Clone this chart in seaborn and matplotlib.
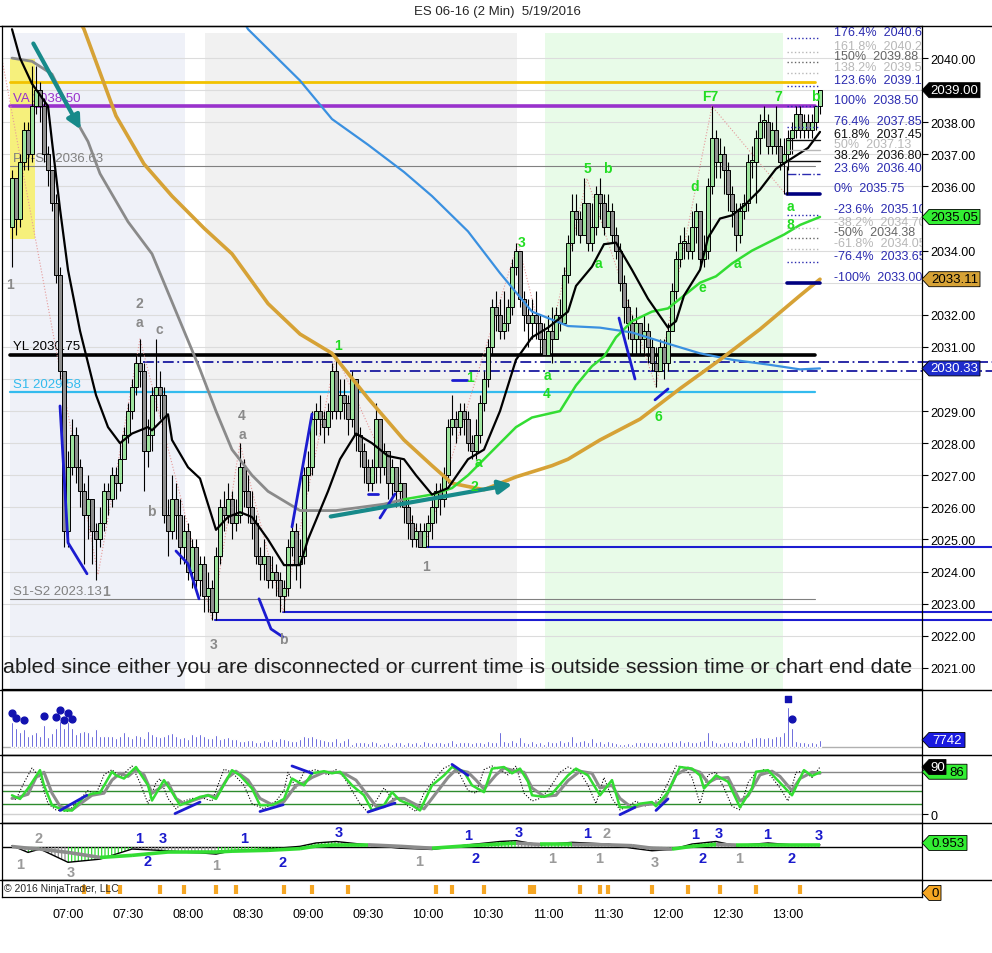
import numpy as np
import pandas as pd
import seaborn as sns
import matplotlib.pyplot as plt
from matplotlib.patches import Rectangle, Polygon
from matplotlib.lines import Line2D

sns.set_style("white")
plt.rcParams['font.family'] = ['Liberation Sans', 'DejaVu Sans']
plt.rcParams['hatch.linewidth'] = 0.9

# ---- price bars (2 min, 06:32 .. 13:16) ----
first_open = 2034.75
closes = [
    2036.25, 2035.0, 2036.75, 2037.75, 2037.0, 2038.5, 2039.0, 2038.5, 2037.0, 2036.5,
    2035.5, 2033.25, 2030.25, 2025.25, 2027.25, 2028.25, 2027.25, 2026.5, 2025.75, 2026.25,
    2025.25, 2025.0, 2025.5, 2026.5, 2026.25, 2027.0, 2026.75, 2027.5, 2028.25, 2029.0,
    2029.75, 2030.5, 2030.25, 2027.75, 2028.25, 2029.5, 2029.75, 2029.5, 2025.75, 2025.25,
    2026.25, 2025.75, 2024.75, 2025.25, 2024.0, 2024.75, 2023.75, 2024.25, 2023.25, 2023.5,
    2022.75, 2024.5, 2026.0, 2025.75, 2026.25, 2025.5, 2025.75, 2027.25, 2026.5, 2026.0,
    2025.5, 2024.5, 2024.25, 2024.5, 2023.75, 2024.0, 2023.75, 2023.25, 2023.5, 2024.75,
    2025.25, 2024.25, 2024.5, 2027.0, 2027.25, 2028.75, 2029.0, 2028.75, 2028.5, 2029.0,
    2030.25, 2029.0, 2029.5, 2029.25, 2028.75, 2030.0, 2028.25, 2027.75, 2027.25, 2026.75,
    2027.25, 2028.75, 2027.25, 2027.75, 2026.75, 2027.25, 2026.5, 2026.75, 2026.0, 2025.5,
    2025.0, 2025.25, 2024.75, 2025.25, 2025.5, 2026.0, 2026.5, 2026.25, 2027.0, 2028.5,
    2028.75, 2028.5, 2029.0, 2028.75, 2028.0, 2027.75, 2028.25, 2029.25, 2030.0, 2031.0,
    2032.25, 2032.0, 2031.5, 2031.75, 2032.25, 2033.5, 2034.0, 2032.5, 2032.0, 2031.75,
    2032.0, 2031.75, 2031.25, 2030.75, 2031.5, 2031.25, 2032.0, 2031.75, 2033.25, 2034.25,
    2035.25, 2035.0, 2034.5, 2035.5, 2034.25, 2034.75, 2035.75, 2035.5, 2034.75, 2035.25,
    2034.5, 2034.0, 2033.0, 2032.25, 2031.75, 2031.25, 2031.75, 2031.25, 2031.5, 2031.0,
    2030.5, 2030.25, 2031.0, 2030.5, 2031.5, 2032.75, 2033.75, 2034.25, 2034.25, 2034.0,
    2034.75, 2035.25, 2033.75, 2034.0, 2036.0, 2037.5, 2036.75, 2037.0, 2036.5, 2035.75,
    2035.25, 2034.5, 2035.25, 2035.5, 2036.75, 2036.75, 2037.5, 2038.0, 2038.0, 2037.25,
    2037.75, 2037.25, 2036.75, 2037.0, 2037.5, 2037.75, 2038.25, 2037.75, 2038.0, 2037.75,
    2038.0, 2038.5, 2039.0,
]
highs = [
    2036.5, 2036.25, 2037.0, 2038.0, 2038.0, 2039.75, 2039.75, 2039.25, 2038.75, 2037.25,
    2036.5, 2035.75, 2033.5, 2030.25, 2027.75, 2028.75, 2028.5, 2027.5, 2026.75, 2027.0,
    2026.25, 2025.5, 2026.0, 2026.75, 2026.75, 2027.25, 2027.25, 2028.0, 2028.5, 2029.25,
    2030.0, 2030.75, 2031.25, 2030.5, 2028.75, 2029.75, 2031.25, 2030.25, 2029.75, 2026.25,
    2027.0, 2026.75, 2026.25, 2025.75, 2025.5, 2025.0, 2025.0, 2024.5, 2024.5, 2024.0,
    2023.75, 2024.75, 2026.25, 2026.5, 2026.75, 2026.5, 2026.25, 2028.0, 2027.5, 2027.0,
    2026.5, 2025.75, 2024.75, 2025.0, 2024.5, 2024.5, 2024.25, 2024.0, 2023.75, 2025.0,
    2025.5, 2025.5, 2025.0, 2027.25, 2027.75, 2029.0, 2029.25, 2029.5, 2029.0, 2029.25,
    2030.5, 2030.75, 2030.0, 2030.0, 2029.5, 2030.25, 2030.0, 2028.5, 2028.0, 2027.5,
    2027.5, 2029.25, 2028.75, 2028.0, 2027.75, 2027.5, 2027.25, 2027.5, 2026.75, 2026.25,
    2025.75, 2025.5, 2025.5, 2025.5, 2025.75, 2026.25, 2026.75, 2026.75, 2027.25, 2028.75,
    2029.5, 2029.0, 2029.25, 2029.25, 2029.0, 2028.25, 2028.75, 2029.5, 2030.25, 2031.25,
    2032.5, 2032.75, 2032.5, 2032.75, 2032.5, 2033.75, 2034.25, 2034.0, 2032.75, 2032.5,
    2032.5, 2032.75, 2032.0, 2031.75, 2032.0, 2032.25, 2032.25, 2032.5, 2033.5, 2034.5,
    2035.75, 2035.75, 2035.25, 2036.25, 2035.5, 2035.5, 2036.0, 2036.25, 2035.75, 2035.75,
    2035.5, 2034.75, 2034.25, 2033.25, 2032.5, 2032.0, 2032.25, 2031.75, 2032.0, 2031.75,
    2031.25, 2031.0, 2031.25, 2031.25, 2031.75, 2033.0, 2034.0, 2034.5, 2034.75, 2034.5,
    2035.25, 2035.5, 2035.25, 2034.5, 2036.25, 2038.5, 2037.75, 2037.5, 2037.25, 2036.75,
    2036.0, 2035.5, 2035.5, 2035.75, 2037.0, 2037.25, 2037.75, 2038.25, 2038.5, 2038.25,
    2038.0, 2038.5, 2037.5, 2037.5, 2037.75, 2038.0, 2038.5, 2038.5, 2038.25, 2038.25,
    2038.25, 2038.5, 2039.0,
]
lows = [
    2033.5, 2034.5, 2034.75, 2036.5, 2036.5, 2036.75, 2038.25, 2038.0, 2036.75, 2036.0,
    2035.25, 2033.0, 2030.0, 2024.75, 2024.75, 2027.0, 2026.75, 2026.0, 2024.25, 2025.0,
    2024.25, 2023.75, 2024.75, 2025.25, 2025.75, 2026.0, 2026.25, 2026.5, 2027.5, 2028.0,
    2028.75, 2029.5, 2029.75, 2026.5, 2027.25, 2027.75, 2029.0, 2028.75, 2025.5, 2024.5,
    2025.0, 2025.0, 2024.25, 2024.25, 2023.75, 2023.5, 2023.5, 2023.25, 2022.75, 2022.75,
    2022.5, 2022.5, 2024.25, 2025.25, 2025.5, 2025.0, 2025.25, 2025.5, 2026.0, 2025.5,
    2025.0, 2024.25, 2023.75, 2023.75, 2023.5, 2023.5, 2023.25, 2022.75, 2022.75, 2023.25,
    2024.5, 2023.75, 2023.5, 2024.25, 2026.5, 2027.0, 2028.25, 2028.25, 2028.0, 2028.25,
    2028.75, 2028.75, 2028.75, 2028.75, 2028.25, 2028.5, 2027.75, 2027.25, 2026.75, 2026.5,
    2026.5, 2026.75, 2026.75, 2027.0, 2026.25, 2026.25, 2026.0, 2026.0, 2025.5, 2025.0,
    2024.75, 2024.75, 2024.75, 2024.75, 2024.75, 2025.0, 2025.5, 2025.75, 2026.0, 2026.75,
    2028.25, 2028.0, 2028.25, 2028.25, 2027.75, 2027.5, 2027.5, 2028.0, 2029.0, 2029.75,
    2030.75, 2031.5, 2031.25, 2031.25, 2031.5, 2032.0, 2033.25, 2032.25, 2031.5, 2031.0,
    2031.25, 2031.25, 2030.75, 2030.75, 2030.75, 2030.5, 2031.25, 2031.5, 2031.75, 2033.0,
    2034.0, 2034.5, 2034.25, 2034.5, 2034.0, 2034.0, 2034.5, 2035.0, 2034.5, 2034.75,
    2034.25, 2033.75, 2032.75, 2031.75, 2031.25, 2030.75, 2030.75, 2030.75, 2030.75, 2030.5,
    2030.25, 2029.75, 2030.25, 2030.0, 2030.25, 2031.5, 2032.5, 2033.5, 2033.75, 2033.75,
    2033.75, 2034.25, 2033.5, 2033.5, 2033.75, 2035.75, 2036.25, 2036.25, 2035.75, 2035.25,
    2034.75, 2034.0, 2034.25, 2035.0, 2035.25, 2036.25, 2035.5, 2037.0, 2037.5, 2037.0,
    2037.0, 2037.0, 2036.5, 2035.75, 2036.5, 2037.0, 2037.5, 2037.5, 2037.5, 2037.5,
    2037.5, 2037.75, 2038.25,
]
volumes = [
    27100, 20500, 16900, 19800, 12500, 14300, 16100, 12500, 24200, 10600, 15400, 20500, 28900, 20500, 27100, 20500,
    13900, 16900, 18000, 16100, 12500, 19800, 12500, 11700, 12500, 11700, 9500, 12500, 16100, 12500, 9500,
    13200, 11700, 9500, 18000, 14300, 12500, 10600, 12500, 14300, 15400, 12500, 9500, 10600, 8800, 14300,
    12500, 14300, 11700, 9500, 9500, 13200, 8800, 9500, 10600, 8800, 8800, 7000, 7000, 8100, 8100,
    5100, 5900, 8100, 7000, 8800, 7000, 9500, 8800, 8100, 7000, 7000, 8800, 12500, 10600, 11700,
    9500, 8800, 8100, 7000, 7000, 9500, 5900, 8100, 9500, 3300, 5900, 5100, 5900, 4400, 7000,
    5100, 3300, 4400, 5100, 3300, 5900, 5100, 3300, 5100, 4400, 5100, 3300, 7000, 5100, 4400,
    5900, 5100, 4400, 5900, 8100, 4400, 5100, 5900, 5100, 4400, 5100, 5900, 4400, 7000, 5900, 5100,
    16100, 7000, 5100, 8100, 5900, 10600, 5900, 4400, 7000, 4400, 5900, 3300, 7000, 5100, 5900, 8100,
    5100, 7000, 11700, 5100, 7000, 8100, 5900, 9500, 5900, 7000, 4400, 7000, 5900, 4400, 3300, 3300,
    4400, 3300, 5900, 5100, 5900, 5100, 5900, 5900, 4400, 5100, 5900, 7000, 5900, 8100, 5900, 7000, 5100, 5900, 7000, 8100,
    17000, 8100, 5900, 4400, 5900, 5100, 7000, 5900, 5100, 8100, 5900, 9500, 10600, 10600, 9500, 10600, 9500, 11700, 12500, 17000,
    43600, 20500, 7000, 5100, 5100, 4400, 5100, 4400, 7742,
]
vol_dot_bars = [0, 1, 3, 8, 11, 12, 13, 14, 15, 195]
vol_dot_vals = [37400, 31900, 29700, 34100, 33000, 40700, 29700, 37400, 30800, 30800]

# ---- moving averages (bar index, price) ----
black_bar = [0, 2, 5, 9, 10, 12, 14, 17, 21, 24, 27, 30, 34, 35, 39, 40, 44, 47, 51, 54,
             57, 60, 64, 68, 72, 74, 79, 82, 86, 90, 94, 98, 101, 105, 109, 114, 118, 122, 126, 130,
             134, 139, 141, 145, 148, 151, 155, 159, 164, 166, 168, 172, 174, 177, 180, 183, 187, 191, 194, 199, 202]
black_val = [2040.9, 2040.0, 2039.2, 2038.5, 2037.4, 2035.3, 2033.4, 2031.5, 2029.5, 2028.5,
             2028.0, 2028.3, 2028.5, 2028.4, 2028.9, 2028.1, 2027.25, 2026.9, 2025.3, 2025.7,
             2025.85, 2025.7, 2025.0, 2024.2, 2024.2, 2025.0, 2026.5, 2027.5, 2028.3, 2028.0,
             2027.6, 2027.5, 2027.0, 2026.4, 2026.6, 2027.5, 2027.8, 2029.0, 2030.6, 2031.3,
             2031.6, 2032.1, 2032.9, 2033.5, 2034.2, 2034.25, 2033.4, 2032.5, 2031.6, 2031.8,
             2032.6, 2033.4, 2034.4, 2035.0, 2035.1, 2035.4, 2035.9, 2036.55, 2036.8, 2037.2, 2037.7]
slow_bar = [0, 5, 10, 14, 19, 22, 29, 35, 41, 47, 51, 55, 60, 64, 68, 72, 76, 81, 87, 93,
            98, 105, 110, 114, 118, 122, 126, 130, 137, 141, 145, 148, 151, 155, 160, 164, 168, 172, 176, 180,
            185, 189, 193, 197, 202]
slow_val = [2040.0, 2039.9, 2039.5, 2038.5, 2037.4, 2036.4, 2034.9, 2033.9, 2032.1, 2030.3,
            2029.0, 2027.8, 2027.0, 2026.5, 2026.2, 2025.9, 2025.9, 2025.9, 2026.0, 2026.1,
            2026.25, 2026.4, 2026.6, 2027.0, 2027.5, 2028.0, 2028.5, 2028.8, 2029.0, 2029.8,
            2030.4, 2030.7, 2031.3, 2031.8, 2032.1, 2032.2, 2032.6, 2033.0, 2033.2, 2033.6,
            2034.0, 2034.25, 2034.5, 2034.8, 2035.05]
gold_bar = [12, 15, 18, 26, 33, 40, 48, 55, 64, 72, 80, 89, 98, 105, 110, 118, 126, 135, 139, 147,
            157, 167, 177, 187, 197, 202]
gold_val = [2042.5, 2041.6, 2040.9, 2038.2, 2036.7, 2035.7, 2034.7, 2033.9, 2032.35, 2031.4,
            2030.8, 2029.4, 2028.1, 2027.3, 2026.75, 2026.55, 2026.95, 2027.3, 2027.5, 2028.1,
            2028.75, 2029.7, 2030.6, 2031.55, 2032.6, 2033.11]
blue_bar = [55, 59, 72, 80, 89, 98, 105, 114, 122, 130, 139, 147, 155, 164, 172, 180, 189, 197, 202]
blue_val = [2041.8, 2040.9, 2039.3, 2038.1, 2037.3, 2036.45, 2035.7, 2034.6, 2033.3, 2032.1,
            2031.65, 2031.6, 2031.45, 2031.1, 2030.8, 2030.6, 2030.45, 2030.3, 2030.33]

# ---- stochastics (bar, value) ----
stg_bar = [0, 2, 4, 7, 8, 10, 13, 15, 18, 20, 22, 25, 26, 28, 31, 34, 35, 38, 40, 42,
           44, 47, 49, 51, 55, 57, 60, 62, 65, 68, 70, 73, 75, 78, 80, 82, 85, 88, 90, 93,
           95, 97, 100, 102, 105, 108, 110, 113, 115, 118, 120, 123, 125, 127, 129, 130, 133, 135, 139, 141,
           144, 147, 150, 152, 155, 157, 160, 161, 164, 167, 170, 172, 173, 176, 179, 182, 185, 186, 189, 191,
           195, 198, 200, 202]
stg_val = [36, 29, 49, 84, 55, 17, 7, 7, 33, 39, 41, 81, 74, 68, 90, 55, 26, 65, 42, 17,
           23, 33, 36, 29, 84, 74, 49, 17, 17, 29, 68, 55, 78, 82, 78, 81, 55, 36, 7, 17,
           42, 26, 17, 7, 55, 74, 90, 81, 55, 42, 87, 90, 78, 87, 62, 36, 33, 39, 74, 87,
           74, 36, 65, 13, 13, 20, 23, 15, 42, 90, 87, 74, 49, 74, 62, 13, 49, 81, 84, 68,
           36, 84, 73, 80]
sty_bar = [0, 2, 4, 6, 8, 10, 12, 15, 18, 20, 23, 25, 27, 29, 31, 33, 35, 37, 39, 41,
           43, 46, 49, 51, 54, 56, 59, 62, 65, 68, 71, 73, 75, 78, 81, 83, 86, 88, 91, 93,
           96, 98, 101, 103, 106, 109, 111, 114, 116, 118, 121, 123, 126, 128, 130, 133, 136, 139, 142, 145,
           147, 150, 152, 155, 158, 161, 163, 166, 169, 172, 174, 176, 179, 182, 184, 187, 190, 192, 195, 197,
           200, 202]
sty_val = [30, 33, 38, 70, 80, 40, 15, 8, 25, 36, 40, 65, 78, 72, 85, 75, 40, 50, 60, 30,
           20, 28, 36, 33, 70, 82, 65, 30, 18, 24, 55, 60, 70, 80, 80, 78, 65, 45, 15, 14,
           30, 30, 18, 10, 40, 70, 85, 80, 65, 48, 75, 88, 82, 80, 50, 34, 36, 64, 82, 78,
           50, 55, 30, 12, 18, 20, 25, 75, 88, 80, 60, 68, 70, 25, 35, 75, 82, 72, 45, 68,
           80, 78]
stk_bar = [0, 1, 3, 5, 7, 9, 11, 14, 16, 19, 21, 23, 25, 27, 30, 32, 34, 36, 37, 39,
           41, 43, 45, 48, 50, 53, 55, 58, 60, 63, 66, 68, 69, 71, 73, 76, 79, 81, 83, 85,
           87, 89, 91, 93, 95, 97, 99, 101, 103, 106, 108, 110, 112, 114, 116, 118, 120, 122, 124, 126,
           128, 130, 132, 134, 137, 139, 142, 144, 146, 148, 150, 152, 154, 156, 158, 160, 162, 164, 166, 168,
           170, 172, 174, 176, 178, 180, 182, 184, 186, 188, 190, 192, 194, 196, 198, 200, 202]
stk_val = [30, 28, 60, 88, 70, 20, 8, 5, 20, 45, 38, 75, 85, 70, 92, 60, 20, 60, 68, 30,
           10, 25, 30, 30, 25, 86, 80, 55, 20, 10, 25, 45, 80, 50, 80, 85, 75, 85, 70, 45,
           20, 3, 25, 50, 30, 30, 15, 5, 40, 70, 88, 95, 75, 45, 40, 85, 92, 85, 75, 92,
           40, 25, 30, 45, 80, 90, 80, 55, 20, 70, 30, 8, 15, 25, 15, 20, 30, 60, 92, 90,
           70, 20, 75, 80, 50, 15, 8, 60, 80, 85, 70, 50, 25, 80, 82, 70, 90]

# ---- macd (bar, value) ----
macd_bar = [0, 4, 7, 14, 22, 30, 39, 44, 47, 51, 55, 64, 72, 76, 81, 89, 97, 105, 114, 122,
            126, 132, 140, 149, 155, 160, 165, 170, 176, 181, 189, 195, 202]
macd_val = [0.3, -1.3, -0.5, -3.65, -2.9, -0.5, -0.9, -1.3, -1.4, -1.7, -0.9, -0.5, 0.15, 0.95, 1.3,
            0.5, -0.3, -0.6, 0.5, 1.3, 1.5, 0.5, 1.1, 0.7, -0.3, -0.9, -0.6, 0.7, 1.3, 0.3, 0.95, 0.5, 0.5]
signal_val = [0.1, -0.3, -0.5, -1.3, -2.5, -2.0, -1.2, -1.2, -1.2, -1.2, -1.0, -0.8, -0.4, 0.2, 0.5,
              0.5, 0.15, -0.3, 0.3, 0.7, 0.9, 0.6, 0.6, 0.5, 0.3, -0.3, -0.5, 0.15, 0.6, 0.45, 0.5, 0.5, 0.5]

marker_bars = [18, 24, 27, 37, 43, 51, 56, 68, 75, 84, 106, 110, 118, 129.6, 130.4, 142, 147, 149,
               160, 169, 177, 186, 197]

tick_bars = [14, 29, 44, 59, 74, 89, 104, 119, 134, 149, 164, 179, 194]
tick_labels = ['07:00', '07:30', '08:00', '08:30', '09:00', '09:30', '10:00', '10:30',
               '11:00', '11:30', '12:00', '12:30', '13:00']

# horizontal levels: (price, label, colour, width)
pivots = [
    (2039.25, None, '#f2c200', 2.0),
    (2038.50, 'VA 2038.50', '#9932cc', 2.6),
    (2036.63, 'PP-S1 2036.63', '#808080', 0.8),
    (2030.75, 'YL 2030.75', '#000000', 2.6),
    (2029.58, 'S1 2029.58', '#33bbee', 1.6),
    (2023.13, 'S1-S2 2023.13', '#808080', 0.8),
]
fibs = [
    ('176.4%  2040.63', 2040.63, '#2b2bb0', ':'),
    ('161.8%  2040.20', 2040.20, '#b8b8b8', ':'),
    ('150%  2039.88', 2039.88, '#666666', ':'),
    ('138.2%  2039.55', 2039.55, '#b8b8b8', ':'),
    ('123.6%  2039.13', 2039.13, '#2b2bb0', ':'),
    ('100%  2038.50', 2038.50, '#2b2bb0', ':'),
    ('76.4%  2037.85', 2037.85, '#2b2bb0', ':'),
    ('61.8%  2037.45', 2037.45, '#111111', '-'),
    ('50%  2037.13', 2037.13, '#b8b8b8', '-'),
    ('38.2%  2036.80', 2036.80, '#111111', '-'),
    ('23.6%  2036.40', 2036.40, '#2b2bb0', '-.'),
    ('0%  2035.75', 2035.75, '#2b2bb0', '-'),
    ('-23.6%  2035.10', 2035.10, '#2b2bb0', ':'),
    ('-38.2%  2034.70', 2034.70, '#b8b8b8', ':'),
    ('-50%  2034.38', 2034.38, '#666666', ':'),
    ('-61.8%  2034.05', 2034.05, '#b8b8b8', ':'),
    ('-76.4%  2033.65', 2033.65, '#2b2bb0', ':'),
    ('-100%  2033.00', 2033.00, '#2b2bb0', '-'),
]
wave_labels = [
    ('1', -0.5, 2032.96, 'g'), ('2', 31.75, 2032.37, 'g'), ('a', 31.75, 2031.78, 'g'),
    ('c', 36.75, 2031.56, 'g'), ('b', 34.75, 2025.89, 'g'), ('1', 23.5, 2023.4, 'g'),
    ('3', 50.5, 2021.74, 'g'), ('4', 57.5, 2028.88, 'g'), ('a', 57.5, 2028.29, 'g'),
    ('b', 67.75, 2021.9, 'g'), ('1', 103.5, 2024.17, 'g'),
    ('1', 81.5, 2031.06, 'G'), ('1', 114.5, 2030.06, 'G'), ('a', 116.5, 2027.41, 'G'),
    ('2', 115.5, 2026.67, 'G'), ('3', 127.5, 2034.27, 'G'), ('a', 133.75, 2030.12, 'G'),
    ('4', 133.75, 2029.56, 'G'), ('5', 143.75, 2036.57, 'G'), ('b', 148.75, 2036.57, 'G'),
    ('a', 146.5, 2033.61, 'G'), ('6', 161.5, 2028.85, 'G'), ('d', 170.75, 2036.01, 'G'),
    ('e', 172.5, 2032.87, 'G'), ('F7', 174.5, 2038.82, 'G'), ('7', 191.5, 2038.82, 'G'),
    ('b', 200.75, 2038.82, 'G'), ('a', 181.25, 2033.61, 'G'), ('a', 194.5, 2035.39, 'G'),
    ('8', 194.5, 2034.83, 'G'),
]
zigzag_bar = [-3, 21.5, 32, 50, 57, 67.75, 81, 103, 126.5, 133.5, 143.75, 161, 175, 193.5]
zigzag_val = [2040.3, 2023.9, 2031.25, 2022.5, 2028.0, 2022.75, 2030.75, 2024.75, 2034.25,
              2030.75, 2036.25, 2029.75, 2038.5, 2035.75]
trend_marks = [
    ([12, 14, 18.75], [2029.16, 2024.9, 2023.93]),
    ([41, 44, 46.75], [2024.64, 2024.24, 2023.15]),
    ([61.75, 64.75, 67.75], [2023.15, 2022.21, 2021.96]),
    ([70, 75], [2025.39, 2028.91]),
    ([89, 91.5], [2026.42, 2026.42]),
    ([92, 95.75], [2025.67, 2026.42]),
    ([110, 113.75], [2029.97, 2029.97]),
    ([151.75, 155.75], [2031.9, 2030.0]),
    ([160.75, 164], [2029.35, 2029.69]),
]
stoch_marks = [
    ([12, 18.7], [7, 36]), ([40.75, 47], [1, 23]), ([62, 67.8], [5, 18]),
    ([70, 75], [92, 78]), ([89, 95.75], [4, 21]), ([110, 114], [95, 74]),
    ([152, 155.75], [-1, 13]), ([161, 164], [7, 29]),
]
macd_labels = [
    ('1', 2, -4.05, 'g'), ('2', 6.75, 2.1, 'g'), ('3', 14.75, -6.0, 'g'),
    ('1', 31.75, 2.1, 'b'), ('3', 37.75, 2.1, 'b'), ('2', 34, -3.3, 'b'),
    ('1', 51, -4.3, 'g'), ('1', 58, 2.1, 'b'), ('2', 67.75, -3.6, 'b'),
    ('3', 81.75, 3.6, 'b'), ('1', 101.75, -3.3, 'g'), ('1', 114, 2.9, 'b'),
    ('2', 116, -2.6, 'b'), ('3', 126.75, 3.6, 'b'), ('1', 135, -2.6, 'g'),
    ('1', 143.75, 3.3, 'b'), ('2', 148.75, 3.3, 'g'), ('1', 146.75, -2.6, 'g'),
    ('3', 160.75, -3.6, 'g'), ('1', 170.75, 3.1, 'b'), ('3', 176.75, 3.3, 'b'),
    ('2', 172.75, -2.6, 'b'), ('1', 181.75, -2.6, 'g'), ('1', 188.75, 3.1, 'b'),
    ('2', 195, -2.6, 'b'), ('3', 201.75, 2.9, 'b'),
]

# ---- layout ----
W, H = 992, 954
fig = plt.figure(figsize=(W / 100, H / 100), dpi=100)
XLIM = (-2.5, 227.5)


def rect(top, bottom):
    return [2 / W, 1 - bottom / H, 920 / W, (bottom - top) / H]


ax = fig.add_axes(rect(27, 690))
axv = fig.add_axes(rect(691, 756))
axs = fig.add_axes(rect(756, 824))
axm = fig.add_axes(rect(824, 881))
axk = fig.add_axes(rect(881, 898))

for a in (ax, axv, axs, axm, axk):
    a.set_xlim(*XLIM)
    a.set_xticks([])
    a.yaxis.tick_right()
    a.tick_params(axis='y', labelsize=9, length=4, pad=2, colors='black')
    for s in a.spines.values():
        s.set_color('black')
        s.set_linewidth(0.9)

# ---- main price panel ----
ax.set_ylim(2020.34, 2041.0)
shown = [v for v in range(2021, 2041) if v not in (2030, 2033, 2035, 2039)]
ax.set_yticks(shown)
ax.set_yticklabels([f'{v:.2f}' for v in shown])

top_frac = (690 - 34) / 663
ax.axvspan(-0.5, 43.25, ymax=top_frac, color='#eff1f8', lw=0, zorder=0)
ax.axvspan(48.25, 126.25, ymax=top_frac, color='#f1f1f1', lw=0, zorder=0)
ax.axvspan(133.25, 192.75, ymax=top_frac, color='#e8fbe8', lw=0, zorder=0)
for p in range(2021, 2041):
    ax.axhline(p, color='#dcdcdc', lw=0.8, zorder=0.5)
ax.add_patch(Rectangle((-0.5, 2034.36), 6.25, 5.61, color='#f6f07c', lw=0, zorder=0.6))

for price, label, col, lw in pivots:
    ax.plot([-0.5, 200.75], [price, price], color=col, lw=lw, zorder=1)
    if label:
        ax.text(0.25, price + 0.08, label, color=col, fontsize=9.5, va='bottom', zorder=1.2)

navy = '#1c1cd0'
ax.plot([32.75, 245], [2030.54, 2030.54], color='#1a1aa0', lw=1.3, ls=(0, (6, 2, 1, 2)),
        clip_on=False, zorder=1)
ax.plot([84.5, 245], [2030.25, 2030.25], color='#1a1aa0', lw=1.3, ls=(0, (6, 2, 1, 2)),
        clip_on=False, zorder=1)
for start, lvl in [(103.25, 2024.75), (67.75, 2022.75), (50.75, 2022.5)]:
    ax.plot([start, 245], [lvl, lvl], color=navy, lw=1.5, clip_on=False, zorder=1)

# candles
bars = np.arange(len(closes))
opens = [first_open] + closes[:-1]
df = pd.DataFrame({'bar': bars, 'open': opens, 'high': highs, 'low': lows, 'close': closes})
up = df['close'] >= df['open']
body_lo = np.minimum(df['open'], df['close'])
body_h = np.maximum((df['close'] - df['open']).abs(), 0.06)
ax.vlines(df['bar'], df['low'], df['high'], color='black', lw=0.8, zorder=3)
ax.bar(df['bar'], body_h, bottom=body_lo, width=0.78,
       color=np.where(up, '#9ee49e', '#8e8e8e').tolist(), edgecolor='black', linewidth=0.7, zorder=3.5)

# moving averages
sns.lineplot(x=blue_bar, y=blue_val, ax=ax, color='#3a90e0', linewidth=1.6, zorder=4)
sns.lineplot(x=gold_bar, y=gold_val, ax=ax, color='#d6a236', linewidth=2.6, zorder=4)
sns.lineplot(x=slow_bar[:21], y=slow_val[:21], ax=ax, color='#8a8a8a', linewidth=2.0, zorder=4)
sns.lineplot(x=slow_bar[20:], y=slow_val[20:], ax=ax, color='#33dd33', linewidth=1.8, zorder=4)
sns.lineplot(x=black_bar, y=black_val, ax=ax, color='black', linewidth=1.6, zorder=4.2)

ax.plot(zigzag_bar, zigzag_val, color='#e59a9a', lw=0.8, ls=':', zorder=2)
for xs, ys in trend_marks:
    ax.plot(xs, ys, color=navy, lw=2, zorder=5)

arrow = dict(arrowstyle='-|>', color='#178a8a', lw=3, mutation_scale=20)
ax.annotate('', xy=(17.5, 2037.7), xytext=(5, 2040.53), arrowprops=arrow, zorder=6)
ax.annotate('', xy=(125.75, 2026.73), xytext=(79, 2025.70), arrowprops=arrow, zorder=6)

for txt, b, p, c in wave_labels:
    ax.text(b, p, txt, color='#8a8a8a' if c == 'g' else '#22dd22', fontsize=10,
            fontweight='bold', ha='center', va='center', zorder=6)

# fibonacci block on the right
for txt, p, col, ls in fibs:
    if txt.startswith('0%') or txt.startswith('-100%'):
        ax.plot([193.75, 202], [p, p], color='#000080', lw=2.6, zorder=5)
    else:
        ax.plot([193.75, 202], [p, p], color=col, lw=1.0, ls=ls, zorder=5)
    ax.text(205.5, p, txt, color=col, fontsize=9, va='bottom', clip_on=True, zorder=6)
ax.plot([193.75, 193.75], [2035.75, 2036.6], color='black', lw=1, zorder=5)

ax.text(-2.2, 2021.03, 'abled since either you are disconnected or current time is outside '
        'session time or chart end date', fontsize=15.4, color='#1e1e1e', va='center',
        ha='left', clip_on=True, zorder=7)

# ---- volume ----
axv.set_ylim(-8800, 62700)
axv.axhline(0, color='#b0b0b0', lw=1)
axv.bar(bars, volumes, width=0.5, color='#1616c8', zorder=3)
axv.scatter(vol_dot_bars, vol_dot_vals, s=24, color='#1212b0', zorder=4)
axv.scatter([194], [52800], s=20, marker='s', color='#1212b0', zorder=4)
axv.set_yticks([])

# ---- stochastics ----
axs.set_ylim(-17, 113)
for lvl, col in [(80, '#888888'), (55, '#888888'), (45, '#2e8b2e'), (20, '#2e8b2e'), (0, '#d0d0d0')]:
    axs.axhline(lvl, color=col, lw=1, zorder=1)
sns.lineplot(x=stk_bar, y=stk_val, ax=axs, color='black', linewidth=0.8, linestyle=':', zorder=2)
sns.lineplot(x=sty_bar, y=sty_val, ax=axs, color='#8c8c8c', linewidth=2.2, zorder=3)
sns.lineplot(x=stg_bar, y=stg_val, ax=axs, color='#33dd33', linewidth=1.8, zorder=4)
for xs, ys in stoch_marks:
    axs.plot(xs, ys, color=navy, lw=2, zorder=5)
axs.set_yticks([0])
axs.set_yticklabels(['0'])

# ---- macd ----
axm.set_ylim(-7.86, 5.7)
axm.axhline(0, color='black', lw=1, zorder=1)
mb = np.array(macd_bar)
mv = np.array(macd_val)
sv = np.array(signal_val)
for k in range(len(mb) - 1):
    hc = '#33dd33' if mv[k + 1] >= mv[k] else '#909090'
    axm.fill_between(mb[k:k + 2], mv[k:k + 2], 0, facecolor='none', edgecolor=hc,
                     hatch='|||||', lw=0, zorder=2)
sns.lineplot(x=macd_bar, y=macd_val, ax=axm, color='black', linewidth=1.0, zorder=3)
for k in range(len(mb) - 1):
    col = '#33dd33' if sv[k + 1] >= sv[k] else '#8c8c8c'
    axm.plot(mb[k:k + 2], sv[k:k + 2], color=col, lw=2.6, solid_capstyle='butt', zorder=4)
for txt, b, v, c in macd_labels:
    axm.text(b, v, txt, color='#9a9a9a' if c == 'g' else '#1a1acc', fontsize=10.5,
             fontweight='bold', ha='center', va='center', zorder=6)
axm.set_yticks([])

# ---- marker strip + time axis ----
axk.set_ylim(0, 1)
axk.vlines(marker_bars, 0.18, 0.7, color='#f5a623', lw=3)
axk.set_yticks([])
axk.set_xticks(tick_bars)
axk.set_xticklabels(tick_labels)
axk.tick_params(axis='x', labelsize=9, length=5, pad=3, colors='black')

# ---- frame lines across the whole width ----
for y in [27, 691, 756, 824, 881]:
    fig.add_artist(Line2D([0, 1], [1 - y / H] * 2, color='black', lw=1, transform=fig.transFigure))


def tag(axis, yval, text, fc, tc, xr=980, tx=None):
    yd = axis.transData.transform((0, yval))[1]
    pts = [(922, yd), (929, yd + 7.5), (xr, yd + 7.5), (xr, yd - 7.5), (929, yd - 7.5)]
    fig.add_artist(Polygon([(px / W, py / H) for px, py in pts], closed=True,
                           transform=fig.transFigure, fc=fc, ec='black', lw=0.6, zorder=10))
    cx = (929 + xr) / 2 if tx is None else tx
    fig.text(cx / W, yd / H, text, color=tc, fontsize=9.5, ha='center',
             va='center', zorder=11)


tag(ax, 2039.0, '2039.00', '#000000', 'white')
tag(ax, 2035.05, '2035.05', '#33ee33', 'black')
tag(ax, 2033.11, '2033.11', '#d6a236', 'black')
tag(ax, 2030.33, '2030.33', '#1e2ccc', 'white')
tag(axv, 7742, '7742', '#1a1ae0', 'white', xr=965)
tag(axs, 81, '86', '#33ee33', 'black', xr=967, tx=957)
tag(axs, 90, '90', '#000000', 'white', xr=946)
tag(axm, 0.953, '0.953', '#33ee33', 'black', xr=967)
tag(axk, 0.24, '0', '#f5a623', 'black', xr=941)

fig.text(497 / W, 1 - 12 / H, 'ES 06-16 (2 Min)  5/19/2016', ha='center', va='center', fontsize=9.5)
fig.text(4 / W, 1 - 889 / H, '\u00a9 2016 NinjaTrader, LLC', fontsize=7.5, va='center')

fig.savefig('out.png', dpi=100)
